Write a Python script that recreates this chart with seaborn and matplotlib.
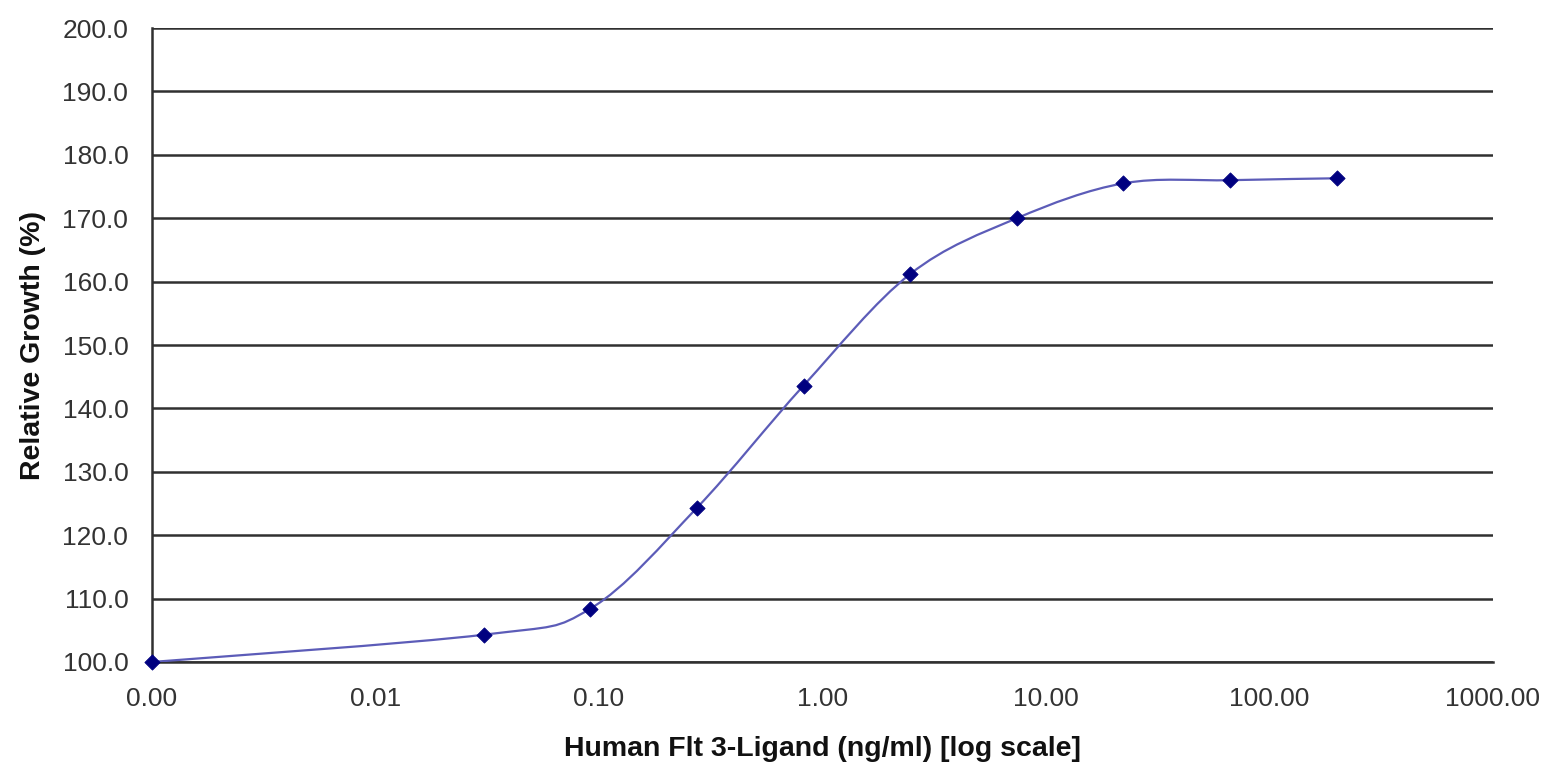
import matplotlib
matplotlib.use("Agg")
import matplotlib.pyplot as plt
import numpy as np
import pandas as pd
import seaborn as sns
from matplotlib.path import Path
from matplotlib.patches import PathPatch
from matplotlib.ticker import FuncFormatter, FixedLocator

# Flt3-Ligand dose response (3-fold dilutions from 200 ng/ml, blank plotted at 0.001)
conc = [0.001, 0.0305, 0.0914, 0.274, 0.823, 2.47, 7.41, 22.2, 66.7, 200.0]
growth = [100.0, 104.3, 108.4, 124.3, 143.6, 161.2, 170.0, 175.5, 176.0, 176.3]

x_ticks = [0.001, 0.01, 0.1, 1, 10, 100, 1000]
y_ticks = [100, 110, 120, 130, 140, 150, 160, 170, 180, 190, 200]

df = pd.DataFrame({"conc": conc, "growth": growth})

sns.set_style("white")
plt.rcParams["font.family"] = ["Liberation Sans", "DejaVu Sans"]

fig = plt.figure(figsize=(15.46, 7.66), dpi=100)
ax = fig.add_axes([0.0983, 0.1358, 0.8674, 0.8276])
ax.set_xscale("log")

# smoothed line (Excel-like bezier, built in log-x space)
lx = np.log10(df["conc"].to_numpy())
gy = df["growth"].to_numpy()
pts = np.column_stack([lx, gy])
verts = [pts[0]]
codes = [Path.MOVETO]
n = len(pts)
for i in range(n - 1):
    p0 = pts[max(i - 1, 0)]
    p1 = pts[i]
    p2 = pts[i + 1]
    p3 = pts[min(i + 2, n - 1)]
    c1 = p1 + (p2 - p0) / 6
    c2 = p2 - (p3 - p1) / 6
    verts += [c1, c2, p2]
    codes += [Path.CURVE4] * 3
verts = np.array(verts)
verts[:, 0] = 10 ** verts[:, 0]
ax.add_patch(PathPatch(Path(verts, codes), facecolor="none",
                       edgecolor="#5c5cb8", linewidth=1.6, zorder=3))

sns.scatterplot(data=df, x="conc", y="growth", marker="D", s=60,
                color="#000080", edgecolor="#000080", ax=ax, zorder=4,
                clip_on=False)

ax.set_xlim(0.001, 1000)
ax.set_ylim(100, 200)
ax.xaxis.set_major_locator(FixedLocator(x_ticks))
ax.xaxis.set_minor_locator(FixedLocator([]))
ax.yaxis.set_major_locator(FixedLocator(y_ticks))
ax.xaxis.set_major_formatter(FuncFormatter(lambda v, p: f"{v:.2f}"))
ax.yaxis.set_major_formatter(FuncFormatter(lambda v, p: f"{v:.1f}"))

ax.grid(axis="y", color="#303030", linewidth=1.8)
ax.set_axisbelow(True)
for s in ["top", "right"]:
    ax.spines[s].set_visible(False)
for s in ["left", "bottom"]:
    ax.spines[s].set_color("#303030")
    ax.spines[s].set_linewidth(1.8)

ax.tick_params(axis="both", which="major", direction="out", length=8, width=1.4,
               color="#303030", labelsize=19, labelcolor="#333333", pad=9)
ax.tick_params(axis="x", length=6, pad=12)

ax.set_xlabel("Human Flt 3-Ligand (ng/ml) [log scale]", fontsize=20.5,
              fontweight="bold", color="#111111", labelpad=18)
ax.set_ylabel("Relative Growth (%)", fontsize=20.5, fontweight="bold",
              color="#111111", labelpad=12)

fig.savefig("out.png", dpi=100)
